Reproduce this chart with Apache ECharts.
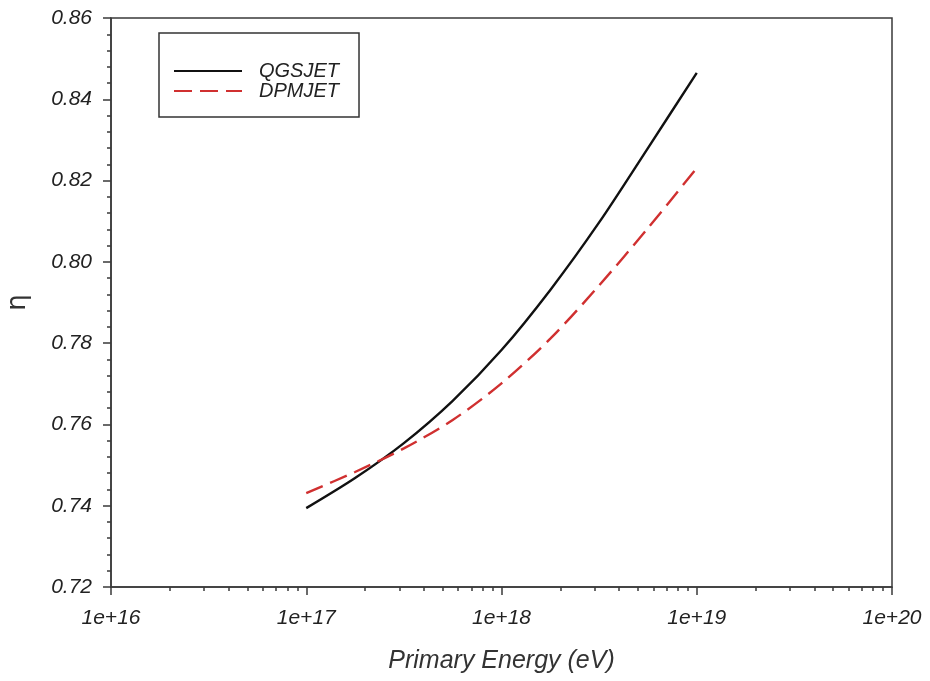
<!DOCTYPE html>
<html>
<head>
<meta charset="utf-8">
<script src="https://cdn.jsdelivr.net/npm/echarts@6/dist/echarts.min.js"></script>
<style>
  html, body { margin: 0; padding: 0; background: #fff; }
  #chart { width: 930px; height: 681px; }
</style>
</head>
<body>
<div id="chart"></div>
<script>
// x values are log10 of primary energy (eV)
var logEnergy = [17, 17.25, 17.5, 17.75, 18, 18.25, 18.5, 18.75, 19];
var qgsjet = [0.7394, 0.7468, 0.7554, 0.7658, 0.7783, 0.7931, 0.8097, 0.8280, 0.8465];
var dpmjet = [0.7431, 0.7483, 0.7541, 0.7611, 0.7701, 0.7811, 0.7942, 0.8083, 0.8231];
var xTickLabels = ['1e+16', '1e+17', '1e+18', '1e+19', '1e+20'];

// log minor ticks 2..9 in every decade
var minorX = [];
for (var d = 16; d < 20; d++) {
    for (var k = 2; k <= 9; k++) {
        minorX.push(d + Math.log10(k));
    }
}

var font = 'Liberation Sans, Arial, sans-serif';
var axisColor = '#3a3a3a';

function pairs(ys) {
    return logEnergy.map(function (x, i) { return [x, ys[i]]; });
}

var chart = echarts.init(document.getElementById('chart'));
chart.setOption({
    backgroundColor: '#fff',
    animation: false,
    grid: {
        left: 111, right: 38, top: 18, bottom: 94,
        outerBoundsMode: 'none',
        show: true,
        borderColor: axisColor,
        borderWidth: 1.5
    },
    legend: {
        left: 159, top: 33,
        orient: 'vertical',
        itemWidth: 68, itemHeight: 14, itemGap: 0,
        padding: [28, 20, 16, 14],
        borderColor: '#333', borderWidth: 1.5,
        itemStyle: { opacity: 0 },
        textStyle: {
            fontFamily: font, fontStyle: 'italic', fontSize: 20, color: '#222',
            lineHeight: 18,
            padding: [0, 0, 0, 12]
        },
        data: ['QGSJET', 'DPMJET']
    },
    xAxis: [{
        type: 'value',
        min: 16, max: 20, interval: 1,
        name: 'Primary Energy (eV)',
        nameLocation: 'middle',
        nameGap: 62,
        nameTextStyle: { fontFamily: font, fontStyle: 'italic', fontSize: 25, color: '#333' },
        axisLine: { lineStyle: { color: axisColor, width: 1.5 } },
        axisTick: { length: 8, lineStyle: { color: axisColor, width: 1.5 } },
        axisLabel: {
            margin: 21,
            fontFamily: font, fontStyle: 'italic', fontSize: 21, color: '#222',
            formatter: function (v) { return xTickLabels[Math.round(v - 16)]; }
        },
        splitLine: { show: false }
    }, {
        type: 'value',
        min: 16, max: 20,
        position: 'bottom',
        axisLine: { show: false },
        axisLabel: { show: false },
        axisTick: {
            show: true, length: 4, customValues: minorX,
            lineStyle: { color: axisColor, width: 1.5 }
        },
        splitLine: { show: false }
    }],
    yAxis: {
        type: 'value',
        min: 0.72, max: 0.86, interval: 0.02,
        name: 'η',
        nameLocation: 'middle',
        nameGap: 80,
        nameTextStyle: { fontFamily: 'DejaVu Sans, sans-serif', fontSize: 26, color: '#333' },
        axisLine: { lineStyle: { color: axisColor, width: 1.5 } },
        axisTick: { length: 8, lineStyle: { color: axisColor, width: 1.5 } },
        minorTick: { show: true, splitNumber: 5, length: 4, lineStyle: { color: axisColor, width: 1.5 } },
        axisLabel: {
            margin: 19,
            fontFamily: font, fontStyle: 'italic', fontSize: 21, color: '#222',
            formatter: function (v) { return v.toFixed(2); }
        },
        splitLine: { show: false }
    },
    series: [{
        name: 'QGSJET',
        type: 'line',
        xAxisIndex: 0,
        data: pairs(qgsjet),
        smooth: 0.3,
        symbol: 'none',
        lineStyle: { color: '#111', width: 2.4 },
        itemStyle: { color: '#111' }
    }, {
        name: 'DPMJET',
        type: 'line',
        xAxisIndex: 0,
        data: pairs(dpmjet),
        smooth: 0.3,
        symbol: 'none',
        lineStyle: { color: '#d03030', width: 2.4, type: [18, 8] },
        itemStyle: { color: '#d03030' }
    }]
});
</script>
</body>
</html>
